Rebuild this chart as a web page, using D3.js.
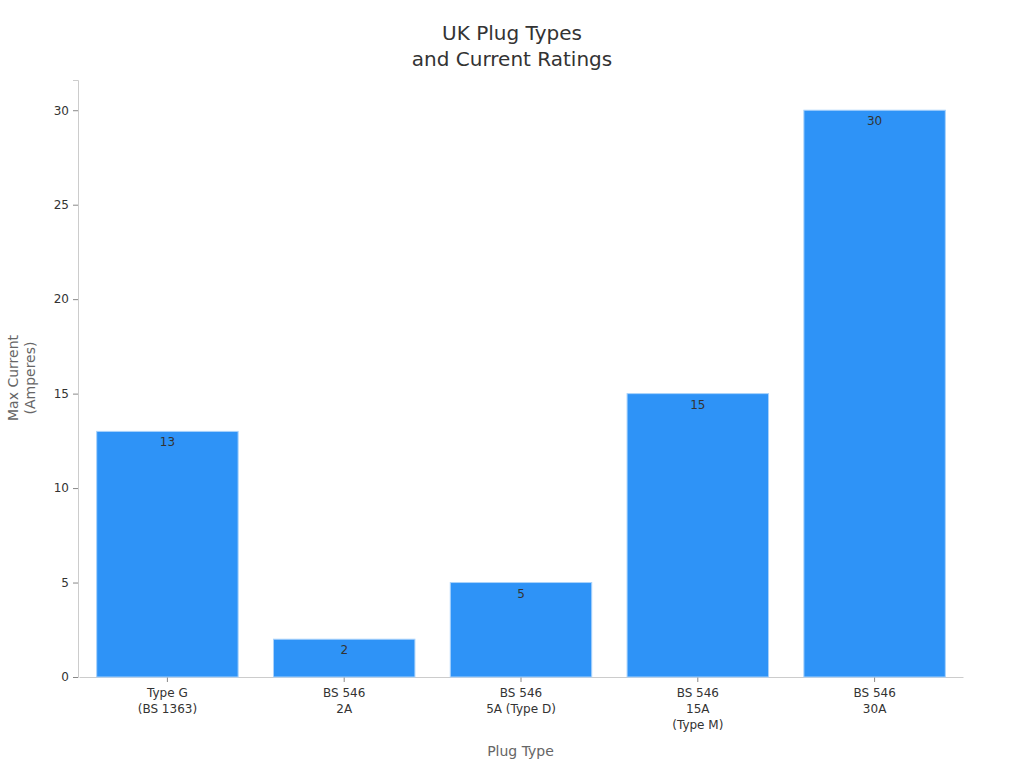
<!DOCTYPE html>
<html>
<head>
<meta charset="utf-8">
<script src="https://cdn.jsdelivr.net/npm/d3@7"></script>
<style>
  body { margin: 0; background: #fff; }
  svg text { font-family: "DejaVu Sans", sans-serif; }
</style>
</head>
<body>
<svg id="chart" width="1024" height="768"></svg>
<script>
// chart data
const categories = [
    ["Type G", "(BS 1363)"],
    ["BS 546", "2A"],
    ["BS 546", "5A (Type D)"],
    ["BS 546", "15A", "(Type M)"],
    ["BS 546", "30A"]
];
const maxCurrent = [13, 2, 5, 15, 30];
const yTicks = [0, 5, 10, 15, 20, 25, 30];

const margin = { top: 80, right: 61, bottom: 91, left: 78 };
const width = 1024 - margin.left - margin.right;
const height = 768 - margin.top - margin.bottom;

const svg = d3.select("#chart");
const g = svg.append("g")
    .attr("transform", "translate(" + margin.left + "," + margin.top + ")");

const xScale = d3.scaleBand()
    .domain(d3.range(categories.length))
    .range([1, width])
    .paddingInner(0.2)
    .paddingOuter(0.1);

const yScale = d3.scaleLinear()
    .domain([0, 31.6])
    .range([height, 0]);

// title
svg.append("text")
    .attr("x", 512).attr("text-anchor", "middle")
    .attr("fill", "#333").style("font-size", "20px")
    .selectAll("tspan")
    .data(["UK Plug Types", "and Current Ratings"])
    .enter().append("tspan")
    .attr("x", 512)
    .attr("y", (d, i) => 40 + i * 26)
    .text(d => d);

// y axis
const yAxis = g.append("g")
    .call(d3.axisLeft(yScale).tickValues(yTicks).tickSize(5).tickPadding(4));
yAxis.select(".domain").attr("stroke", "#ccc");
yAxis.selectAll(".tick line").attr("stroke", "#888");
yAxis.selectAll(".tick text").attr("fill", "#333").style("font-size", "12px");

// x axis
const xAxis = g.append("g")
    .attr("transform", "translate(0," + height + ")")
    .call(d3.axisBottom(xScale).tickSize(5).tickSizeOuter(0).tickFormat(""));
xAxis.select(".domain").attr("stroke", "#ccc");
xAxis.selectAll(".tick line").attr("stroke", "#888");
xAxis.selectAll(".tick").each(function (d) {
    const t = d3.select(this).append("text")
        .attr("fill", "#333").attr("text-anchor", "middle")
        .style("font-size", "12px");
    categories[d].forEach((line, i) => {
        t.append("tspan").attr("x", 0).attr("y", 20 + i * 16).text(line);
    });
});

// bars
g.selectAll(".bar")
    .data(maxCurrent)
    .enter().append("rect")
    .attr("class", "bar")
    .attr("x", (d, i) => xScale(i))
    .attr("y", d => yScale(d))
    .attr("width", xScale.bandwidth())
    .attr("height", d => height - yScale(d))
    .attr("fill", "#2E93F7")
    .attr("stroke", "#a9d2fb")
    .attr("stroke-width", 1);

// value labels
g.selectAll(".val")
    .data(maxCurrent)
    .enter().append("text")
    .attr("class", "val")
    .attr("x", (d, i) => xScale(i) + xScale.bandwidth() / 2)
    .attr("y", d => yScale(d) + 15)
    .attr("text-anchor", "middle")
    .attr("fill", "#333")
    .style("font-size", "12px")
    .text(d => d);

// axis titles
svg.append("text")
    .attr("transform", "translate(0,378) rotate(-90)")
    .attr("text-anchor", "middle").attr("fill", "#666")
    .style("font-size", "14px")
    .selectAll("tspan")
    .data(["Max Current", "(Amperes)"])
    .enter().append("tspan")
    .attr("x", 0)
    .attr("y", (d, i) => 18 + i * 17)
    .text(d => d);

svg.append("text")
    .attr("x", margin.left + width / 2).attr("y", 756)
    .attr("text-anchor", "middle").attr("fill", "#666")
    .style("font-size", "14px")
    .text("Plug Type");
</script>
</body>
</html>
